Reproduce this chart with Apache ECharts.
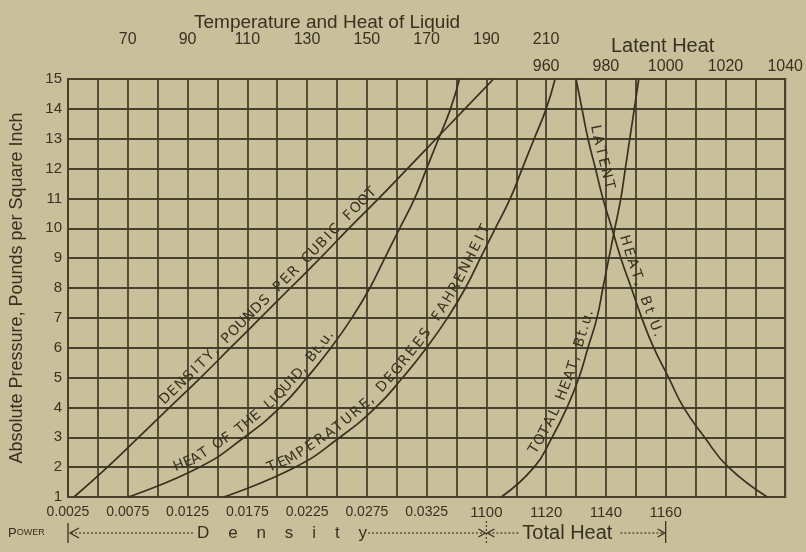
<!DOCTYPE html>
<html><head><meta charset="utf-8">
<script src="https://cdn.jsdelivr.net/npm/echarts@6/dist/echarts.min.js"></script>
<style>html,body{margin:0;padding:0;background:#c9bf9b}#c{width:806px;height:552px}</style>
</head><body><div id="c"></div>
<script>
// Absolute pressure, pounds per square inch
const pressure = [1,2,3,4,5,6,7,8,9,10,11,12,13,14,15];
// Density, pounds per cubic foot
const density = [0.0030,0.0058,0.0084,0.0110,0.0136,0.0161,0.0186,0.0211,0.0236,0.0260,0.0285,0.0309,0.0333,0.0357,0.0381];
// Heat of the liquid, Btu
const heatOfLiquid = [70,94,109,121,130,138,145,151,156,161,166,170,174,178,181];
// Temperature, degrees Fahrenheit
const temperature = [102,126,141,153,162,170,177,183,188,193,198,202,206,210,213];
// Total heat, Btu
const totalHeat = [1105,1116,1122,1127,1131,1134,1137,1139,1141,1143,1145,1146.5,1148,1149.5,1151];
// Latent heat, Btu
const latentHeat = [1034,1021,1013,1006,1001,996,992,988.5,985,982,979,976.5,974,972,970];

// Tick labels
const pressureTicks = [1,2,3,4,5,6,7,8,9,10,11,12,13,14,15];
const densityTicks = ['0.0025','0.0075','0.0125','0.0175','0.0225','0.0275','0.0325'];
const tempTicks = [70,90,110,130,150,170,190,210];
const latentTicks = [960,980,1000,1020,1040];
const totalTicks = [1100,1120,1140,1160];

const INK = '#38311f';
const GRIDC = '#47412c';
const BG = '#c9bf9b';
const FONT = '"Liberation Sans", "DejaVu Sans", sans-serif';

const chart = echarts.init(document.getElementById('c'));
function pairs(xs){ return xs.map((v,i)=>[v, pressure[i]]); }
function lbl(list){ return v => { const r = Math.round(v*1000)/1000; return list.includes(r) ? String(r) : ''; }; }

const option = {
  backgroundColor: BG,
  animation: false,
  textStyle: {fontFamily: FONT, color: INK},
  title: [
    {text: 'Temperature and Heat of Liquid', left: 189, top: 8, textStyle:{fontSize:19, fontWeight:'normal', color:INK, fontFamily:FONT}},
    {text: 'Latent Heat', left: 606, top: 31, textStyle:{fontSize:20, fontWeight:'normal', color:INK, fontFamily:FONT}}
  ],
  grid: {left: 68, right: 19, top: 79, bottom: 55, show: true, borderColor: GRIDC, borderWidth: 2, backgroundColor: 'transparent'},
  yAxis: {
    type: 'value', min: 1, max: 15, interval: 1,
    name: 'Absolute Pressure, Pounds per Square Inch', nameLocation: 'middle', nameGap: 42,
    nameTextStyle: {fontSize: 18, color: INK, fontFamily: FONT},
    axisLine: {show: false}, axisTick: {show: false},
    axisLabel: {fontSize: 15, color: INK, margin: 6, formatter: v => pressureTicks.includes(v) ? String(v) : ''},
    splitLine: {show: true, lineStyle: {color: GRIDC, width: 1.8}}
  },
  xAxis: [
    {type:'value', position:'bottom', min:0.0025, max:0.0625, interval:0.0025,
     axisLine:{show:false}, axisTick:{show:false}, splitLine:{show:false},
     axisLabel:{fontSize:14, color:INK, margin:8, showMaxLabel:true, formatter: v => {
        const i = Math.round((v-0.0025)/0.0025);
        return (i%2===0 && i/2 < densityTicks.length) ? densityTicks[i/2] : '';
     }}},
    {type:'value', position:'bottom', min:960, max:1200, interval:10,
     axisLine:{show:false}, axisTick:{show:false},
     splitLine:{show:true, lineStyle:{color:GRIDC, width:1.8}},
     axisLabel:{fontSize:15, color:INK, margin:8, formatter: lbl(totalTicks)}},
    {type:'value', position:'top', offset:27, min:50, max:290, interval:10,
     axisLine:{show:false}, axisTick:{show:false}, splitLine:{show:false},
     axisLabel:{fontSize:16, color:INK, margin:4, formatter: lbl(tempTicks)}},
    {type:'value', position:'top', min:800, max:1040, interval:10,
     axisLine:{show:false}, axisTick:{show:false}, splitLine:{show:false},
     axisLabel:{fontSize:16, color:INK, margin:4, showMaxLabel:true, formatter: lbl(latentTicks)}}
  ],
  series: [
    {name:'Density', type:'line', xAxisIndex:0, yAxisIndex:0, data:pairs(density), smooth:true, showSymbol:false, lineStyle:{color:INK, width:1.7}},
    {name:'Heat of the Liquid', type:'line', xAxisIndex:2, yAxisIndex:0, data:pairs(heatOfLiquid), smooth:true, showSymbol:false, lineStyle:{color:INK, width:1.7}},
    {name:'Temperature', type:'line', xAxisIndex:2, yAxisIndex:0, data:pairs(temperature), smooth:true, showSymbol:false, lineStyle:{color:INK, width:1.7}},
    {name:'Total Heat', type:'line', xAxisIndex:1, yAxisIndex:0, data:pairs(totalHeat), smooth:true, showSymbol:false, lineStyle:{color:INK, width:1.7}},
    {name:'Latent Heat', type:'line', xAxisIndex:3, yAxisIndex:0, data:pairs(latentHeat), smooth:true, showSymbol:false, lineStyle:{color:INK, width:1.7}}
  ]
};
chart.setOption(option);

function valAt(arr, p){
  const i = Math.floor(p)-1, f = p-Math.floor(p);
  if (i >= arr.length-1) return arr[arr.length-1];
  return arr[i] + (arr[i+1]-arr[i])*f;
}
function toPx(axis, v, p){ return chart.convertToPixel({xAxisIndex:axis, yAxisIndex:0}, [v,p]); }

// Curve captions, written letter by letter along each curve (pressure range where they sit)
const curveLabels = [
  {text:'DENSITY, POUNDS PER CUBIC FOOT', arr:density, axis:0, from:3.95, to:11.1, gap:9},
  {text:'HEAT OF THE LIQUID, Bt.u.', arr:heatOfLiquid, axis:2, from:1.7, to:6.35, gap:9},
  {text:'TEMPERATURE, DEGREES FAHRENHEIT', arr:temperature, axis:2, from:1.65, to:10.0, gap:9},
  {text:'TOTAL HEAT, Bt.u.', arr:totalHeat, axis:1, from:2.3, to:7.2, gap:9},
  {text:'LATENT', arr:latentHeat, axis:3, from:13.45, to:11.2, gap:9},
  {text:'HEAT, Bt.U.', arr:latentHeat, axis:3, from:9.7, to:6.25, gap:9}
];
const graphics = [];
function weight(ch){ return ch===' ' ? 0.8 : (ch==='.'||ch===',') ? 0.5 : (ch==='I'||ch==='t') ? 0.7 : 1; }
curveLabels.forEach(L => {
  const N = 300, pts = [], cum = [0];
  for (let k=0; k<=N; k++){ const p = L.from + (L.to-L.from)*k/N; pts.push(toPx(L.axis, valAt(L.arr,p), p)); }
  for (let k=1; k<=N; k++) cum.push(cum[k-1] + Math.hypot(pts[k][0]-pts[k-1][0], pts[k][1]-pts[k-1][1]));
  const total = cum[N];
  const chars = Array.from(L.text);
  const wsum = chars.reduce((s,c)=>s+weight(c),0);
  let acc = 0;
  chars.forEach(ch => {
    const w = weight(ch);
    const s = (acc + w/2)/wsum*total;
    acc += w;
    if (ch === ' ') return;
    let k = 1; while (k < N && cum[k] < s) k++;
    const seg = cum[k]-cum[k-1] || 1, t = (s-cum[k-1])/seg;
    const x = pts[k-1][0] + (pts[k][0]-pts[k-1][0])*t;
    const y = pts[k-1][1] + (pts[k][1]-pts[k-1][1])*t;
    const r = Math.atan2(-(pts[k][1]-pts[k-1][1]), pts[k][0]-pts[k-1][0]);
    const ux = -Math.sin(r), uy = -Math.cos(r);
    graphics.push({type:'text', x: x+ux*L.gap, y: y+uy*L.gap, rotation: r, z: 10,
      style:{text: ch, fill: INK, font: '14px "DejaVu Sans", sans-serif',
             align:'center', verticalAlign:'middle', textAlign:'center', textVerticalAlign:'middle'}});
  });
});

// Bottom span markers: Density and Total Heat
const xL = toPx(0, 0.0025, 1)[0];
const xM = toPx(1, 1100, 1)[0];
const xR = toPx(1, 1160, 1)[0];
const yb = 533;
const stroke = {stroke: INK, lineWidth: 1.3, fill: 'none'};
const dash = {stroke: INK, lineWidth: 1.1, lineDash:[2,2]};
const mid = {verticalAlign:'middle', textVerticalAlign:'middle'};
graphics.push(
  {type:'text', x:8, y:yb, style:Object.assign({rich:{a:{fontSize:13, fill:INK, color:INK, fontFamily:FONT}, b:{fontSize:9, fill:INK, color:INK, fontFamily:FONT}}, text:'{a|P}{b|OWER}', fill:INK}, mid)},
  {type:'line', shape:{x1:xL, y1:yb-10, x2:xL, y2:yb+10}, style:stroke},
  {type:'polyline', shape:{points:[[xL+11,yb-5],[xL+2,yb],[xL+11,yb+5]]}, style:stroke},
  {type:'line', shape:{x1:xL+3, y1:yb, x2:xL+126, y2:yb}, style:dash},
  {type:'text', x:xL+129, y:yb, style:Object.assign({text:'D    e    n    s    i    t    y', fill:INK, font:'17px '+FONT}, mid)},
  {type:'line', shape:{x1:xL+300, y1:yb, x2:xM-2, y2:yb}, style:dash},
  {type:'polyline', shape:{points:[[xM-8,yb-4],[xM-1,yb],[xM-8,yb+4]]}, style:stroke},
  {type:'line', shape:{x1:xM, y1:yb-12, x2:xM, y2:yb+12}, style:dash},
  {type:'polyline', shape:{points:[[xM+8,yb-4],[xM+1,yb],[xM+8,yb+4]]}, style:stroke},
  {type:'line', shape:{x1:xM+2, y1:yb, x2:xM+32, y2:yb}, style:dash},
  {type:'text', x:xM+36, y:yb, style:Object.assign({text:'Total Heat', fill:INK, font:'20px '+FONT}, mid)},
  {type:'line', shape:{x1:xM+134, y1:yb, x2:xR-2, y2:yb}, style:dash},
  {type:'polyline', shape:{points:[[xR-8,yb-4],[xR-1,yb],[xR-8,yb+4]]}, style:stroke},
  {type:'line', shape:{x1:xR, y1:yb-12, x2:xR, y2:yb+10}, style:stroke}
);
chart.setOption({graphic: graphics});
</script>
</body></html>
